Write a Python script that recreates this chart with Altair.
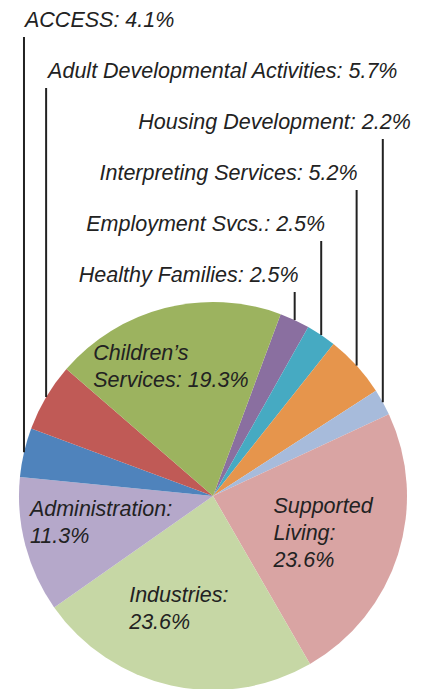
import math
import altair as alt
import pandas as pd

# ---- data ----
names = ["Healthy Families", "Employment Svcs.", "Interpreting Services", "Housing Development",
         "Supported Living", "Industries", "Administration", "ACCESS",
         "Adult Developmental Activities", "Children’s Services"]
values = [2.5, 2.5, 5.2, 2.2, 23.6, 23.6, 11.3, 4.1, 5.7, 19.3]
colors = ["#8a6fa0", "#46aac2", "#e6954c", "#a7bbdb", "#d9a4a3",
          "#c6d7a5", "#b5a8ca", "#4f83bc", "#c05a56", "#9cb35f"]
# label text heads (inner labels wrap onto several lines)
label_heads = ["Healthy Families:", "Employment Svcs.:", "Interpreting Services:", "Housing Development:",
               "Supported\nLiving:\n", "Industries:\n", "Administration:\n", "ACCESS:",
               "Adult Developmental Activities:", "Children’s\nServices: "]

# ---- layout (not data) ----
OFF_DEG = 20.4            # rotation of the first slice edge
R_PX = 194                # pie radius in px
CX_PX, CY_PX = 213, 496   # pie centre on the page
W, H = 405, 681
FONT = "Liberation Sans"
FS = 21.5
# outside labels: slice index -> (tier, side, dx px)
outside = {7: (0, "left", 1), 8: (1, "left", 2), 3: (2, "right", 28),
           2: (3, "right", 1), 1: (4, "right", 4), 0: (5, "right", 4)}
TIER0, TIER_STEP = 27, 51
# inside labels: slice index -> (dx px, dy px) offset from anchor at 0.64 r
inside = {9: (-89, -16), 6: (-63, -12), 5: (-57, -15), 4: (-58, -20)}
K_IN = 0.64

# ---- derived tables ----
rows, cum = [], 0.0
for i, (n, v) in enumerate(zip(names, values)):
    mid = cum + v / 2
    cum += v
    a = math.radians(OFF_DEG + 3.6 * mid)
    sep = "" if label_heads[i].endswith("\n") or label_heads[i].endswith(" ") else " "
    rows.append(dict(name=n, value=v, ord=i, ang=a,
                     text=f"{label_heads[i]}{sep}{v}%"))
df = pd.DataFrame(rows)

out_rows = []
for i, (tier, side, dx) in outside.items():
    a = df.loc[i, "ang"]
    x = math.sin(a)
    base_px = TIER0 + TIER_STEP * tier
    out_rows.append(dict(name=df.loc[i, "name"], text=df.loc[i, "text"], side=side,
                         lx=x, ly_bot=math.sqrt(max(0.0, 1 - x * x)),
                         ly_top=(CY_PX - base_px - 10) / R_PX,
                         tx=x + dx / R_PX, ty=(CY_PX - base_px) / R_PX))
out_df = pd.DataFrame(out_rows)

in_rows = []
for i, (dx, dy) in inside.items():
    a = df.loc[i, "ang"]
    in_rows.append(dict(text=df.loc[i, "text"],
                        tx=K_IN * math.sin(a) + dx / R_PX,
                        ty=K_IN * math.cos(a) - dy / R_PX))
in_df = pd.DataFrame(in_rows)

xs = alt.Scale(domain=[(8 - CX_PX) / R_PX, (8 + W - CX_PX) / R_PX], nice=False, zero=False)
ys = alt.Scale(domain=[(CY_PX - 8 - H) / R_PX, (CY_PX - 8) / R_PX], nice=False, zero=False)

pie = alt.Chart(df).mark_arc(outerRadius=R_PX).encode(
    theta=alt.Theta("value:Q", stack=True,
                    scale=alt.Scale(range=[math.radians(OFF_DEG), math.radians(OFF_DEG) + 2 * math.pi])),
    order=alt.Order("ord:Q"),
    color=alt.Color("name:N", scale=alt.Scale(domain=names, range=colors), legend=None),
    x=alt.datum(0, scale=xs, axis=None),
    y=alt.datum(0, scale=ys, axis=None),
)

lines = alt.Chart(out_df).mark_rule(color="#222222", strokeWidth=2).encode(
    x=alt.X("lx:Q", scale=xs, axis=None),
    y=alt.Y("ly_top:Q", scale=ys, axis=None),
    y2="ly_bot:Q",
)

txt_left = alt.Chart(out_df).transform_filter(alt.datum.side == "left").mark_text(
    align="left", baseline="alphabetic", font=FONT, fontSize=FS, fontStyle="italic", color="#222222"
).encode(x=alt.X("tx:Q", scale=xs, axis=None), y=alt.Y("ty:Q", scale=ys, axis=None), text="text:N")

txt_right = alt.Chart(out_df).transform_filter(alt.datum.side == "right").mark_text(
    align="right", baseline="alphabetic", font=FONT, fontSize=FS, fontStyle="italic", color="#222222"
).encode(x=alt.X("tx:Q", scale=xs, axis=None), y=alt.Y("ty:Q", scale=ys, axis=None), text="text:N")

txt_in = alt.Chart(in_df).mark_text(
    align="left", baseline="alphabetic", font=FONT, fontSize=FS, fontStyle="italic", color="#222222",
    lineBreak="\n", lineHeight=27
).encode(x=alt.X("tx:Q", scale=xs, axis=None), y=alt.Y("ty:Q", scale=ys, axis=None), text="text:N")

chart = alt.layer(pie, lines, txt_left, txt_right, txt_in).properties(
    width=W, height=H, padding=0, autosize=alt.AutoSizeParams(type="none"),
    background="white"
).configure_view(stroke=None)

chart.save("out.html", embed_options={"renderer": "svg", "actions": False})
